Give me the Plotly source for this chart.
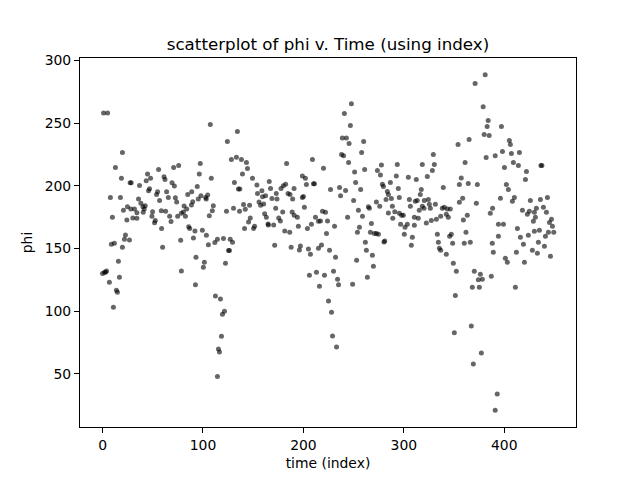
import plotly.graph_objects as go

# --- data (time index, phi) ---
idx_seg1 = [1, 5, 19.8, 12.8, 18.8, 27.5, 28.5, 36.8, 44.8, 47.8,
            43.5, 55.8, 61.2, 62.2, 69.2, 71.5, 70.8, 75.8, 7.8, 17.8,
            9.8, 20.8, 24.8, 28.2, 31.8, 34.2, 30.2, 34.2, 35.8, 38.2,
            40.2, 41.5, 42.5, 40.5, 45.8, 46.8, 49.8, 49.2, 52.5, 51.8,
            53.8, 54.8, 56.8, 58.5, 62.8, 58.8, 63.8, 65.5, 66.8, 68.2,
            72.5, 73.8, 74.8, 78.5, 81.2, 82.5, 83.8, 80.5, 84.8, 88.8,
            89.8, 88.5, 85.8, 86.8, 77.8, 90.5, 78.5, 59.8, 8.8, 11.8,
            22.8, 21.8, 26.8, 19.8, 15.8, 0, 2, 3, 4, 6.8,
            16.8, 13.8, 14.8, 10.8, 24.2]
phi_seg1 = [258, 258, 226.5, 214.6, 205.9, 202.4, 202.4, 200.3, 209.3, 205.9,
            204, 213, 207.2, 205, 202.4, 199.8, 214.6, 216.2, 190.7, 190.7,
            174.8, 180.4, 183.3, 181.5, 181.5, 178.5, 174.3, 174, 189.4, 186,
            183.3, 181.5, 184.1, 178.8, 196, 197.6, 179.3, 175.6, 172.2, 170.6,
            193.1, 195.2, 188.3, 180.1, 179.6, 166, 195.2, 190.7, 175.6, 171.4,
            190.5, 187, 175.6, 178, 183.8, 175.6, 181.5, 179, 193.1, 195.2,
            187.3, 184.6, 167.4, 166, 156.5, 158.4, 132.1, 151, 153.3, 154.1,
            160.8, 157.3, 156.8, 151, 139.8, 130, 131, 131, 132, 123,
            127, 116.7, 115.1, 103.2, 172.7]

idx_seg2 = [107.3, 134.3, 124.3, 128.3, 133.3, 138.3, 143.3, 144.3, 139.3, 97.3,
            96.3, 94.3, 108.3, 131.3, 135.3, 136.7, 149.3, 153.7, 154.3, 158.7,
            159.3, 162.3, 166, 167.3, 168.7, 173, 173.7, 177.7, 180, 182.3,
            183.3, 184.7, 186.7, 189.3, 190.7, 95.3, 98, 102.7, 104.7, 103.3,
            110.3, 109.3, 106.3, 123.4, 130.4, 136.4, 140.4, 142.1, 146.4, 145.4,
            147.1, 141.4, 150.4, 151.4, 155.8, 157.4, 160.4, 161.4, 163.1, 165.1,
            164.8, 170.4, 172.4, 175.4, 177.1, 179.4, 181.4, 186.4, 171.4, 187.8,
            188.8, 190.8, 92, 99.4, 103.4, 105.4, 111.8, 114.4, 120.4, 127.1,
            129.4, 125.4, 126.4, 122.4, 93, 101.4, 100.4, 92.5, 112.4, 117.4,
            121.4, 119.4, 118.4, 115.4, 116.4, 114.4]
phi_seg2 = [248.8, 243.3, 235.3, 221, 222.8, 221, 218.6, 213.8, 209.3, 217.8,
            209.3, 199.5, 205.9, 202.7, 197.4, 197.4, 205.9, 200.6, 193.9, 196,
            191.3, 192.1, 203.5, 197.9, 189.9, 193.9, 189.4, 197.9, 200, 201.3,
            217.8, 193.9, 193.1, 189.4, 197.9, 189.4, 192.1, 190.7, 192.6, 189.4,
            184.1, 180.1, 176.1, 179.6, 182, 179.6, 185, 181.2, 184.4, 171.1,
            174.3, 166, 166, 167.7, 187, 184.4, 185.4, 177.7, 174.8, 168.7,
            169.5, 168.7, 182, 174.3, 171.9, 179, 164, 163, 152.5, 151,
            179, 176.4, 164, 164.5, 160.5, 153, 154.7, 157.3, 158, 157.3,
            155, 148.3, 148.3, 138.2, 143, 139, 135, 121, 112, 109.6,
            100, 97.6, 80, 69.8, 67.4, 47.8]

idx_seg3 = [247.8, 240.8, 246.8, 238.8, 242.8, 245.5, 260, 258, 261, 238,
            240, 245, 251, 252, 257, 209, 220, 199, 202, 203,
            210, 211, 199, 200, 201, 227, 236, 237, 242, 194,
            195, 204, 208, 212, 215, 217, 219, 222, 224, 223,
            231, 250, 244, 254.8, 258.8, 255.8, 253.8, 264.7, 265.7, 267.7,
            266.7, 270.7, 272.7, 274.7, 272.7, 276, 281, 280.2, 273.7, 277.7,
            276.7, 278.7, 279.7, 286.6, 283.6, 284.6, 282.3, 287.6, 288.6, 284.6,
            289, 291, 197, 196, 205, 207, 215, 218, 226, 232,
            206, 213, 221, 216, 230, 234, 235, 249, 253, 263.7,
            262.7, 261.7, 268.7, 269.7, 225, 228, 229, 233]
phi_seg3 = [265.5, 257.6, 248, 238, 238, 233.7, 235.3, 226.5, 213, 225,
            224, 218.6, 211, 202.7, 197, 221, 214, 207.7, 205.9, 201,
            201.6, 201.6, 190.7, 191.5, 182.8, 197, 198.7, 192, 196.3, 174.8,
            167.7, 166, 169.3, 174.8, 171.6, 171.9, 179.6, 178.8, 171.9, 162,
            167.7, 188.3, 174.8, 180.4, 175.6, 166.9, 162.9, 183.3, 182, 170,
            162.9, 162, 162, 161.3, 187, 183.6, 156, 155.2, 212.2, 216.5,
            208.5, 201.3, 199.5, 202.7, 195.5, 193.1, 189.1, 189.9, 183.6, 178.3,
            174, 179.3, 152, 148.8, 149.6, 145.4, 150.2, 152.8, 148.6, 143,
            128.7, 131, 128.7, 119.9, 131.9, 125.5, 121, 121.5, 140.6, 127.1,
            148.6, 154.9, 144.6, 135.8, 108, 99.2, 80.1, 71.4]

idx_seg4 = [381, 371, 379, 384, 383, 380, 385, 382, 391, 354,
            365, 361, 293.5, 292.5, 294.5, 295.5, 318.4, 330.4, 329.4, 328.4,
            323.4, 304.5, 312.4, 317.4, 316.4, 339.3, 295.5, 297.8, 299.5, 296.8,
            301.2, 303.5, 300.5, 308.5, 307.5, 305.5, 306.5, 310.5, 314.4, 310.5,
            311.4, 313.4, 315.4, 318.4, 320.4, 320.1, 322.4, 324.4, 325.4, 326.4,
            327.4, 331.4, 332.4, 336.7, 338.3, 340.3, 342.3, 344.3, 343.3, 346.3,
            333.4, 334.4, 335.4, 336.7, 342.3, 345.6, 347.3, 348.6, 349.3, 352.3,
            351.3, 355.3, 358.6, 359.3, 363.2, 361.9, 360.2, 366.2, 355.3, 357.2,
            364.2, 373.2, 372.2, 386.1, 388.4, 388.1, 389.1, 387.1, 370.2, 376.2,
            374.2, 378.2, 368.2, 375.2, 350.3, 367.2, 377.2, 369.2, 391, 393]
phi_seg4 = [288.6, 281.5, 263, 252, 247.2, 240.9, 240, 222.6, 224, 232.9,
            236.9, 218.6, 217, 207.7, 197.9, 190.7, 217, 217, 225, 212.2,
            207.4, 206.7, 205, 197, 193.1, 198.7, 178, 176.4, 176.4, 169.3,
            166.9, 169.3, 161.3, 158.9, 152.5, 189.1, 183.6, 174.8, 174, 168.5,
            187.6, 188.3, 180.4, 183.6, 188.3, 182, 170.3, 189.1, 185.2, 182,
            172.2, 185.2, 173.2, 175.6, 182, 182.8, 177.2, 174.8, 181.5, 181.5,
            161.3, 154.9, 150.2, 148.6, 145.4, 159.7, 161.3, 154.1, 138.2, 131.9,
            112.5, 186.8, 190, 172.7, 176.4, 162.9, 154.1, 154.9, 201.1, 206.1,
            201.9, 201.1, 186, 178, 182, 154.1, 147, 127.9, 131.9, 129.5,
            125, 125.5, 119.1, 119.1, 82.8, 88.1, 66.6, 57.8, 21, 34]

idx_seg5 = [397.2, 398.2, 407.1, 415.1, 405.1, 406.1, 409.1, 414.1, 422.1, 421.1,
            400.2, 436.5, 437.5, 402.1, 404.1, 396.2, 408.1, 410.1, 394.2, 399.2,
            394.2, 426, 436, 443, 418.1, 423, 425, 430, 432, 431,
            429, 439, 442, 445, 447, 448, 449.3, 444, 441, 435,
            430, 413.1, 416.1, 424, 419.1, 434, 440, 428, 433, 446,
            420.1, 412.1, 401.1, 403.1, 411.1]
phi_seg5 = [247.2, 227.3, 225.8, 226.5, 236.1, 232.9, 218.6, 216.2, 211.4, 205,
            214.6, 216.2, 216.2, 201.1, 197.1, 190, 187.6, 190.7, 169.3, 169.3,
            159.7, 188.3, 189.1, 190.7, 180.4, 177.2, 179.6, 178.8, 182, 174.8,
            171.6, 182.8, 178.8, 170.8, 173.2, 167.7, 162.9, 162.9, 159.7, 164.5,
            163.7, 166, 158.9, 160.5, 153.3, 154.9, 151.7, 148.6, 146.2, 143.8,
            139, 147, 142.2, 139, 119.1]

x_ticks = [0, 100, 200, 300, 400]
y_ticks = [50, 100, 150, 200, 250, 300]

time_index = idx_seg1 + idx_seg2 + idx_seg3 + idx_seg4 + idx_seg5
phi = phi_seg1 + phi_seg2 + phi_seg3 + phi_seg4 + phi_seg5

FONT = "DejaVu Sans"

fig = go.Figure(go.Scatter(
    x=time_index, y=phi, mode="markers",
    marker=dict(size=5, color="rgba(0,0,0,0.6)", line=dict(width=0)),
    hoverinfo="skip",
))

axis_common = dict(
    showline=True, linecolor="black", linewidth=1.1, mirror=True,
    ticks="outside", ticklen=5, tickwidth=1.1, tickcolor="black",
    showgrid=False, zeroline=False,
    tickfont=dict(family=FONT, size=13.9, color="black"),
)

# the page has an 8px body margin, so the figure is 8px smaller and shifted
fig.update_layout(
    width=632, height=472,
    paper_bgcolor="white", plot_bgcolor="white",
    margin=dict(l=72, r=64, t=50, b=53, autoexpand=False),
    showlegend=False,
    title=dict(text="scatterplot of phi v. Time (using index)",
               font=dict(family=FONT, size=16.7, color="black"),
               x=0.5, xref="paper", xanchor="center",
               y=1 - 36 / 472, yref="container", yanchor="middle"),
    xaxis=dict(axis_common, range=[-22.45, 471.45], tickvals=x_ticks,
               title=dict(text="time (index)", standoff=6,
                          font=dict(family=FONT, size=13.9, color="black"))),
    yaxis=dict(axis_common, range=[7.6, 301.9], tickvals=y_ticks,
               title=dict(text="phi", standoff=8,
                          font=dict(family=FONT, size=13.9, color="black"))),
)

fig.write_html("out.html")
